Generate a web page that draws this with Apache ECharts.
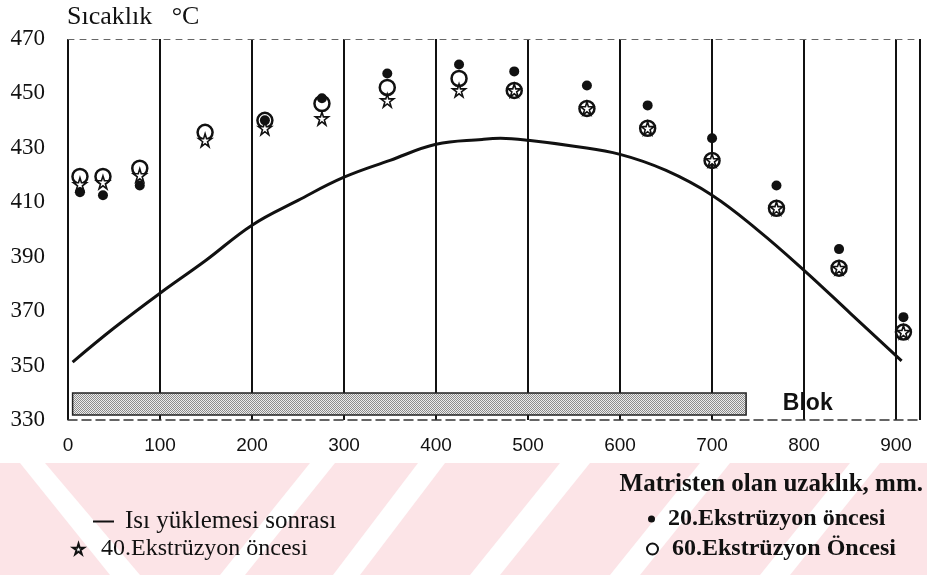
<!DOCTYPE html>
<html>
<head>
<meta charset="utf-8">
<script src="https://cdn.jsdelivr.net/npm/echarts@6/dist/echarts.min.js"></script>
<style>
    html, body {margin: 0; padding: 0; background: #fff;}
    #chart {width: 927px; height: 575px;}
</style>
</head>
<body>
<div id="chart"></div>
<script>
// isı yüklemesi sonrası eğrisi
const curveX = [5, 50, 100, 150, 200, 250, 300, 350, 400, 450, 470, 500, 550, 600, 650, 700, 750, 800, 850, 906];
const curveY = [351.3, 363.8, 376.6, 388.7, 401.6, 410.7, 419.2, 425.4, 431.3, 433.1, 433.5, 432.8, 430.6, 427.6, 421.7, 412.6, 399.7, 385.0, 369.3, 351.7];
// 20. ekstrüzyon öncesi (dolu nokta)
const dotX = [13, 38, 78, 214, 276, 347, 425, 485, 564, 630, 700, 770, 838, 908];
const dotY = [413.7, 412.6, 416.2, 440.1, 448.2, 457.3, 460.6, 458.1, 452.9, 445.6, 433.5, 416.2, 392.8, 367.8];
// 40. ekstrüzyon öncesi (yıldız)
const starX = [13, 38, 78, 149, 214, 276, 347, 425, 485, 564, 630, 700, 770, 838, 908];
const starY = [416.6, 417.3, 419.9, 432.8, 437.2, 440.8, 447.4, 451.1, 451.1, 444.5, 437.2, 425.4, 407.8, 385.8, 362.3];
// 60. ekstrüzyon öncesi (boş daire)
const ringX = [13, 38, 78, 149, 214, 276, 347, 425, 485, 564, 630, 700, 770, 838, 908];
const ringY = [419.5, 419.5, 422.5, 435.7, 440.1, 446.3, 452.2, 455.5, 451.1, 444.5, 437.2, 425.4, 407.8, 385.8, 362.3];
// blok
const blokX = [5, 737];
const blokY = [331.8, 339.9];
const xTicks = [0, 100, 200, 300, 400, 500, 600, 700, 800, 900];
const yTicks = [330, 350, 370, 390, 410, 430, 450, 470];

const names = ['Isı yüklemesi sonrası', '40.Ekstrüzyon öncesi', '20.Ekstrüzyon öncesi', '60.Ekstrüzyon Öncesi'];
const ink = '#111';
const serif = '"Liberation Serif", "DejaVu Serif", serif';
const sans = '"Liberation Sans", Arial, sans-serif';
const starPath = 'path://M50,2 L61,37 L98,37 L68,59 L79,95 L50,73 L21,95 L32,59 L2,37 L39,37 Z';

//blok için noktalı desen
const pat = document.createElement('canvas');
pat.width = 2;
pat.height = 2;
const pc = pat.getContext('2d');
pc.fillStyle = '#ececec';
pc.fillRect(0, 0, 2, 2);
pc.fillStyle = '#8c8c8c';
pc.fillRect(0, 0, 1, 1);
pc.fillRect(1, 1, 1, 1);

function pairs(xs, ys) {
    return xs.map(function (x, i) {
        return [x, ys[i]];
    });
}

//alt kısımdaki pembe filigran
const band = [{type: 'rect', shape: {x: 0, y: 463, width: 927, height: 112}, style: {fill: '#fce4e7'}}];
[[20, 45, 140, 110], [310, 335, 245, 220], [418, 445, 360, 333], [560, 590, 500, 470], [700, 730, 640, 610], [850, 880, 790, 760]].forEach(function (s) {
    band.push({
        type: 'polygon',
        shape: {points: [[s[0], 463], [s[1], 463], [s[2], 575], [s[3], 575]]},
        style: {fill: '#fff'}
    });
});

function legendItem(name, left, top, w, h, icon, bold, size, pad) {
    return {
        data: [icon ? {name: name, icon: icon} : name],
        left: left,
        top: top,
        padding: 0,
        itemWidth: w,
        itemHeight: h,
        selectedMode: false,
        textStyle: {
            fontFamily: serif, fontSize: size, color: ink,
            fontWeight: bold ? 'bold' : 'normal',
            padding: [0, 0, 0, pad]
        }
    };
}

const chart = echarts.init(document.getElementById('chart'));
chart.setOption({
    animation: false,
    backgroundColor: '#fff',
    graphic: band,
    title: [
        {
            text: 'Sıcaklık   °C', left: 67, top: 4, padding: 0,
            textStyle: {fontFamily: serif, fontSize: 26, fontWeight: 'normal', color: ink}
        },
        {
            text: 'Matristen olan uzaklık, mm.', right: 4, top: 472, padding: 0,
            textStyle: {fontFamily: serif, fontSize: 25, fontWeight: 'bold', color: ink}
        }
    ],
    legend: [
        legendItem(names[0], 93, 509, 21, 2, 'rect', false, 25, 6),
        legendItem(names[1], 72, 537, 11, 11, null, false, 24, 12),
        legendItem(names[2], 648, 507, 7, 7, 'circle', true, 24, 8),
        legendItem(names[3], 646, 537, 11, 11, null, true, 24, 9)
    ],
    grid: {left: 68, right: 7, top: 39, bottom: 155},
    xAxis: [
        {
            type: 'value', min: 0, max: 926, interval: 100,
            axisLine: {show: true, lineStyle: {color: '#333', width: 1.5, type: [9, 5]}},
            axisTick: {show: false},
            splitLine: {show: true, lineStyle: {color: ink, width: 2}},
            axisLabel: {
                margin: 16, color: ink, fontFamily: sans, fontSize: 19,
                formatter: function (v) {
                    return xTicks.indexOf(v) >= 0 ? String(v) : '';
                }
            }
        },
        {
            type: 'value', position: 'top', min: 0, max: 926,
            axisLine: {show: true, lineStyle: {color: '#666', width: 1, type: [6, 6]}},
            axisTick: {show: false}, axisLabel: {show: false}, splitLine: {show: false}
        }
    ],
    yAxis: {
        type: 'value', min: 330, max: 470, interval: 10,
        axisLine: {show: false},
        axisTick: {show: false},
        splitLine: {show: false},
        axisLabel: {
            margin: 23, color: ink, fontFamily: serif, fontSize: 23,
            formatter: function (v) {
                return yTicks.indexOf(v) >= 0 ? String(v) : '';
            }
        }
    },
    series: [
        {
            name: names[0],
            type: 'line',
            data: pairs(curveX, curveY),
            smooth: 0.4,
            symbol: 'none',
            z: 3,
            itemStyle: {color: ink},
            lineStyle: {color: ink, width: 3},
            markArea: {
                silent: true,
                itemStyle: {color: {image: pat, repeat: 'repeat'}, borderColor: '#222', borderWidth: 1.5},
                label: {
                    show: true, position: 'right', distance: 36, formatter: 'Blok',
                    fontFamily: sans, fontSize: 23, fontWeight: 'bold', color: ink
                },
                data: [[{coord: [blokX[0], blokY[0]]}, {coord: [blokX[1], blokY[1]]}]]
            }
        },
        {
            name: names[3],
            type: 'scatter',
            data: pairs(ringX, ringY),
            symbol: 'circle',
            symbolSize: 15,
            z: 4,
            itemStyle: {color: 'rgba(255,255,255,0)', borderColor: ink, borderWidth: 2.5, opacity: 1}
        },
        {
            name: names[1],
            type: 'scatter',
            data: pairs(starX, starY),
            symbol: starPath,
            symbolSize: 13,
            z: 5,
            itemStyle: {color: '#fff', borderColor: ink, borderWidth: 1.6, opacity: 1}
        },
        {
            name: names[2],
            type: 'scatter',
            data: pairs(dotX, dotY),
            symbol: 'circle',
            symbolSize: 10,
            z: 6,
            itemStyle: {color: ink, opacity: 1}
        }
    ]
});
</script>
</body>
</html>
